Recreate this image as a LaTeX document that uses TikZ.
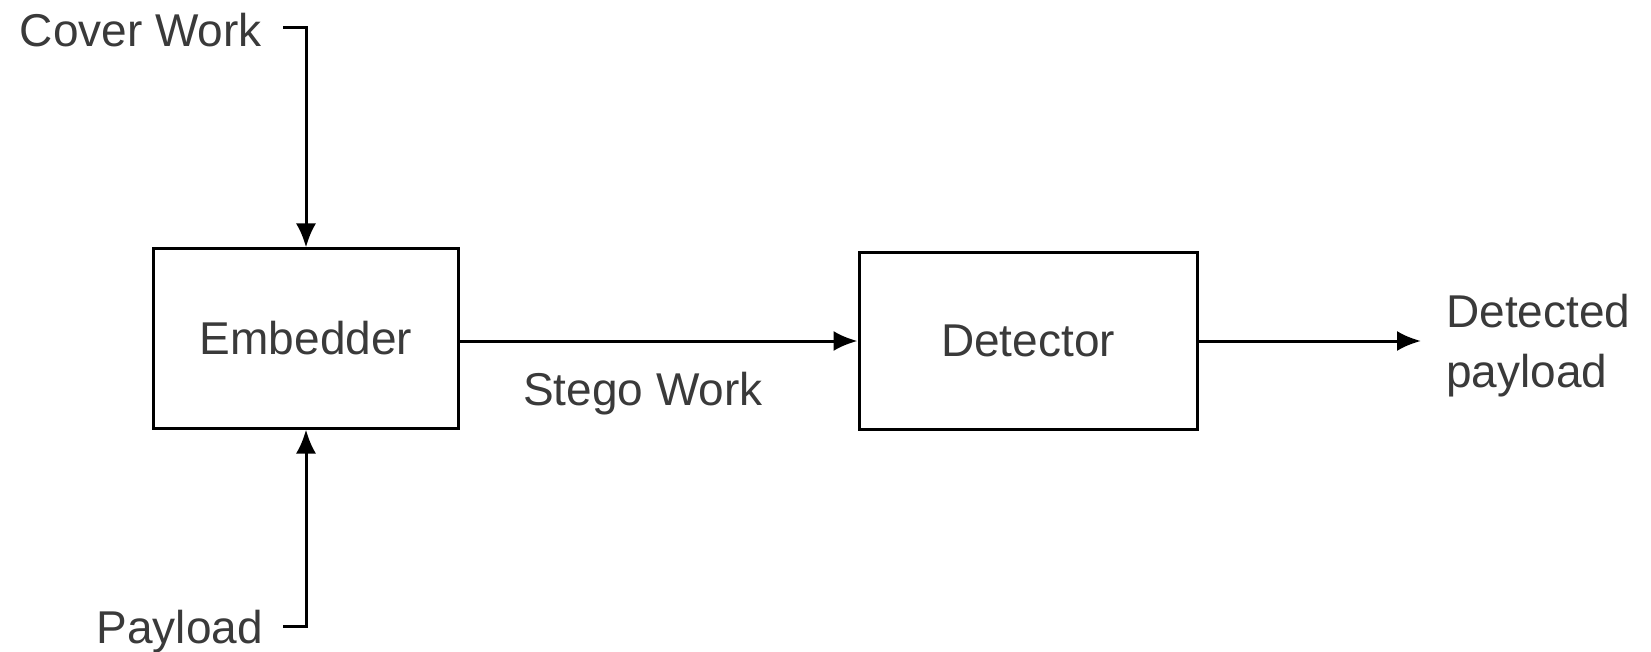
\documentclass[tikz,border=0pt]{standalone}
\usepackage{fontspec}
\setmainfont{Liberation Sans}
\usetikzlibrary{arrows.meta}
\definecolor{txt}{HTML}{3A3A3A}
\tikzset{
  blockbox/.style={draw=black, line width=3pt, inner sep=0pt, text=txt, font=\fontsize{46}{56}\selectfont},
  lbl/.style={inner sep=0pt, text=txt, font=\fontsize{46}{60}\selectfont},
  arr/.style={line width=3pt, -{Latex[length=24pt,width=20pt]}},
  ln/.style={line width=3pt}
}
\begin{document}
\begin{tikzpicture}[x=1pt,y=-1pt]
\useasboundingbox (0,0) rectangle (1651,652);
\node[blockbox, minimum width=305pt, minimum height=179pt] (emb) at (306,338.5) {Embedder};
\node[blockbox, minimum width=338pt, minimum height=176pt] (det) at (1028,341) {Detector};
\node[lbl, anchor=base east] (cover) at (262,47) {Cover Work};
\node[lbl, anchor=base east] (pay) at (263,643) {Payload};
\node[lbl, anchor=base west] (stego) at (523,405) {Stego Work};
\node[lbl, anchor=west, align=left] (out) at (1446,346) {Detected\\payload};
\coordinate (cws) at (283,28);
\coordinate (pys) at (283,626);
\coordinate (outend) at (1421,341);
\draw[arr] (cws) -| (emb.north);
\draw[arr] (pys) -| (emb.south);
\draw[arr] (emb.east |- det.west) -- (det.west);
\draw[arr] (det.east) -- (outend);
\end{tikzpicture}
\end{document}
